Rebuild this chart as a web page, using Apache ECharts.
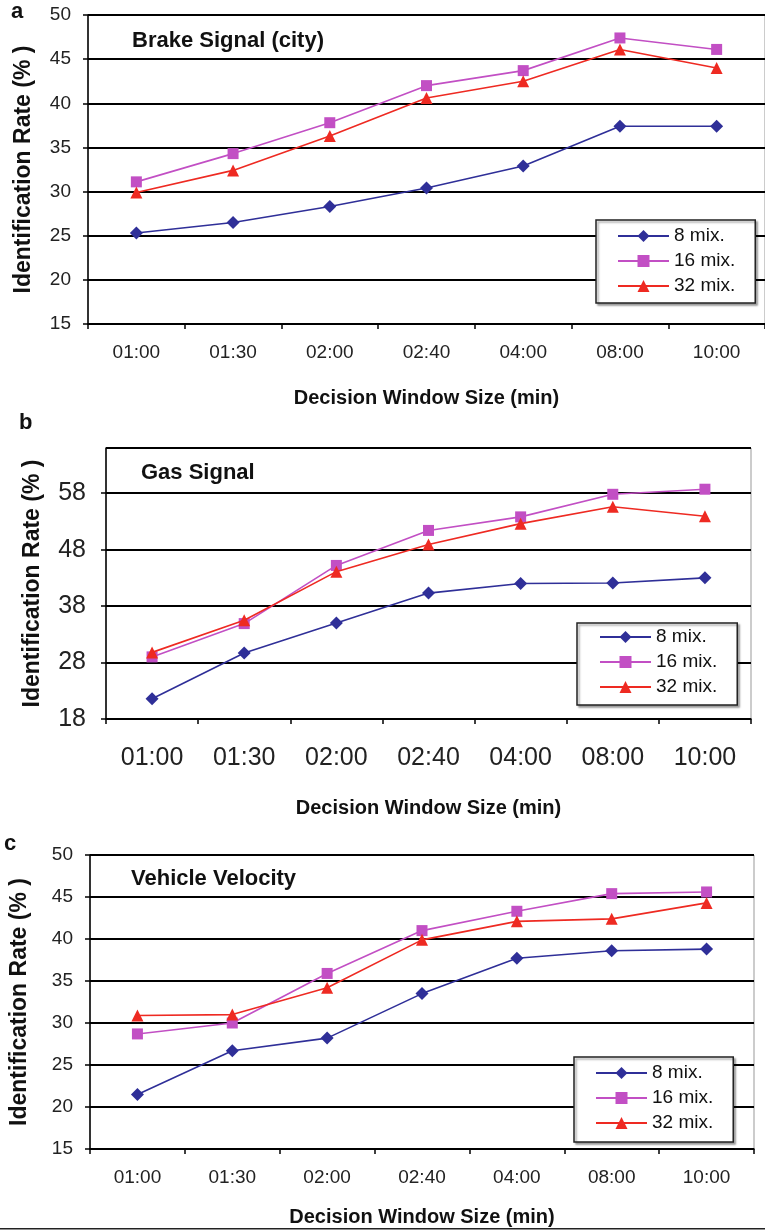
<!DOCTYPE html>
<html>
<head>
<meta charset="utf-8">
<script src="https://cdn.jsdelivr.net/npm/echarts@6/dist/echarts.min.js"></script>
<style>
html,body{margin:0;padding:0;background:#fff;}
#c{width:765px;height:1231px;}
</style>
</head>
<body>
<div id="c"></div>
<script>
const categories = ['01:00','01:30','02:00','02:40','04:00','08:00','10:00'];
const seriesNames = ['8 mix.','16 mix.','32 mix.'];

const brake8  = [25.3, 26.5, 28.3, 30.4, 32.9, 37.4, 37.4];
const brake16 = [31.1, 34.3, 37.8, 42.0, 43.7, 47.4, 46.1];
const brake32 = [29.9, 32.4, 36.3, 40.6, 42.5, 46.1, 44.0];

const gas8  = [21.6, 29.7, 35.0, 40.3, 42.0, 42.1, 43.0];
const gas16 = [29.0, 34.9, 45.2, 51.4, 53.8, 57.8, 58.7];
const gas32 = [29.8, 35.5, 44.1, 48.9, 52.6, 55.6, 53.9];

const vel8  = [21.5, 26.7, 28.2, 33.5, 37.7, 38.6, 38.8];
const vel16 = [28.7, 30.0, 35.9, 41.0, 43.3, 45.4, 45.6];
const vel32 = [30.9, 31.0, 34.2, 39.9, 42.1, 42.4, 44.3];

const panelTitles = ['Brake Signal (city)', 'Gas Signal', 'Vehicle Velocity'];
const panelLetters = ['a', 'b', 'c'];
const xTitle = 'Decision Window Size (min)';
const yTitle = 'Identification Rate (% )';

const colors = ['#2f2f98', '#c24fc4', '#ee2a22'];
const symbols = ['diamond', 'rect', 'triangle'];
const symbolSizes = [13, 11, 12];

const sans = "'Liberation Sans', Arial, sans-serif";

const grids = [
  {left: 88, top: 15, width: 677, height: 309},
  {left: 106, top: 448, width: 645, height: 271},
  {left: 88, top: 855, width: 666, height: 294}
];
const yRanges = [
  {min: 15, max: 50, interval: 5},
  {min: 18, max: 66, interval: 10},
  {min: 15, max: 50, interval: 5}
];
const xLabelFont = [19, 25, 19];
const yLabelFont = [19, 25, 19];
const yLabelMargin = [17, 20, 17];
const xLabelMargin = [19, 27, 19];
const xNameGap = [64, 79, 58];
const yNameGap = [53, 62, 59];
const data = [[brake8, brake16, brake32], [gas8, gas16, gas32], [vel8, vel16, vel32]];

const legendBoxes = [
  {left: 596, top: 220, pad: [6, 20, 7, 21]},
  {left: 577, top: 623, pad: [4, 20, 8, 22]},
  {left: 574, top: 1057, pad: [6, 20, 9, 21]}
];
const titlePos = [
  {x: 132, y: 42}, {x: 141, y: 474}, {x: 131, y: 880}
];
const letterPos = [{x: 18, y: 15}, {x: 26, y: 426}, {x: 11, y: 847}];

const option = {
  animation: false,
  backgroundColor: '#fff',
  grid: grids.map(g => Object.assign({show: true, borderColor: '#999', borderWidth: 1, backgroundColor: 'transparent'}, g)),
  xAxis: grids.map((g, i) => ({
    type: 'category',
    gridIndex: i,
    data: categories,
    boundaryGap: true,
    axisLine: {lineStyle: {color: '#000', width: 1.5}},
    axisTick: {show: true, length: 5, lineStyle: {color: '#000', width: 1.5}},
    axisLabel: {color: '#222', fontFamily: sans, fontSize: xLabelFont[i], margin: xLabelMargin[i]},
    name: xTitle,
    nameLocation: 'middle',
    nameGap: xNameGap[i],
    nameTextStyle: {fontFamily: sans, fontWeight: 'bold', fontSize: 20, color: '#111'}
  })),
  yAxis: grids.map((g, i) => ({
    type: 'value',
    gridIndex: i,
    min: yRanges[i].min,
    max: yRanges[i].max,
    interval: yRanges[i].interval,
    axisLine: {show: true, lineStyle: {color: '#000', width: 1.5}},
    axisTick: {show: true, length: 5, lineStyle: {color: '#000', width: 1.5}},
    axisLabel: {color: '#222', fontFamily: sans, fontSize: yLabelFont[i], margin: yLabelMargin[i], showMaxLabel: i !== 1},
    splitLine: {show: true, lineStyle: {color: '#000', width: 2}},
    name: yTitle,
    nameLocation: 'middle',
    nameGap: yNameGap[i],
    nameTextStyle: {fontFamily: sans, fontWeight: 'bold', fontSize: 23, color: '#111'}
  })),
  legend: legendBoxes.map((b, i) => ({
    left: b.left,
    top: b.top,
    orient: 'vertical',
    data: seriesNames,
    itemWidth: 51,
    itemHeight: 15,
    itemGap: 5,
    padding: b.pad,
    borderColor: '#222',
    borderWidth: 1.5,
    backgroundColor: '#fff',
    shadowColor: 'rgba(0,0,0,0.35)',
    shadowOffsetX: 2,
    shadowOffsetY: 2,
    shadowBlur: 2,
    selectedMode: false,
    textStyle: {fontFamily: sans, fontSize: 19, lineHeight: 20, color: '#111'}
  })),
  series: [],
  graphic: []
};

data.forEach((panel, p) => {
  panel.forEach((vals, s) => {
    option.series.push({
      type: 'line',
      name: seriesNames[s],
      xAxisIndex: p,
      yAxisIndex: p,
      data: vals,
      symbol: symbols[s],
      symbolSize: symbolSizes[s],
      itemStyle: {color: colors[s]},
      lineStyle: {color: colors[s], width: 1.6},
      z: 3 + s
    });
  });
  option.graphic.push({
    type: 'text', left: titlePos[p].x, top: titlePos[p].y - 12,
    style: {text: panelTitles[p], fontFamily: sans, fontWeight: 'bold', fontSize: 22, fill: '#111'}
  });
  option.graphic.push({
    type: 'text', left: letterPos[p].x - 7, top: letterPos[p].y - 14,
    style: {text: panelLetters[p], fontFamily: sans, fontWeight: 'bold', fontSize: 22, fill: '#111'}
  });
});
option.graphic.push({
  type: 'rect', left: 0, top: 1228, shape: {x: 0, y: 0, width: 765, height: 1.5},
  style: {fill: '#222'}
});

const chart = echarts.init(document.getElementById('c'), null, {renderer: 'canvas'});
chart.setOption(option);
</script>
</body>
</html>
